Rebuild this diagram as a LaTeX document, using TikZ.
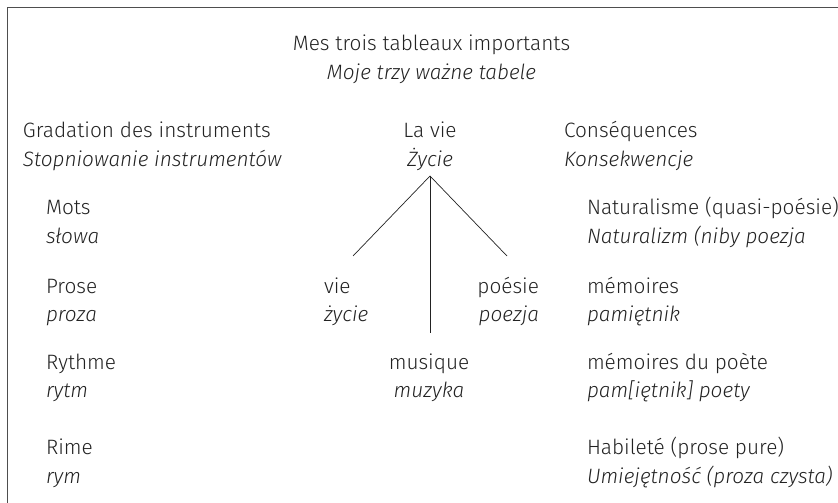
\documentclass[tikz,border=0pt]{standalone}
\usepackage{fontspec}
\setmainfont{Fira Sans Light}[ItalicFont={Fira Sans Light Italic}]
\definecolor{ink}{HTML}{222222}
\tikzset{
  lbl/.style={anchor=base west, inner sep=0pt, outer sep=0pt, text=ink, font=\fontsize{20.8}{24}\selectfont},
  lblc/.style={lbl, anchor=base},
  lble/.style={lbl, anchor=base east},
  it/.style={font=\fontsize{20.8}{24}\selectfont\itshape},
  frame/.style={draw=ink!80, line width=0.9pt},
  branch/.style={draw=ink, line width=0.7pt}
}
\begin{document}
\begin{tikzpicture}[x=1pt, y=-1pt]
\useasboundingbox (0,0) rectangle (838,503);
\draw[frame] (7.5,520) -- (7.5,7.5) -- (850,7.5);
% title
\node[lblc] (t1) at (431.5,50.5) {Mes trois tableaux importants};
\node[lblc,it] (t2) at (431.5,79.5) {Moje trzy ważne tabele};
% headings
\node[lbl] (g1) at (23,137) {Gradation des instruments};
\node[lbl,it] (g2) at (23,166) {Stopniowanie instrumentów};
\node[lblc] (v1) at (430,137) {La vie};
\node[lblc,it] (v2) at (430,166) {Życie};
\node[lbl] (c1) at (564,137) {Conséquences};
\node[lbl,it] (c2) at (564,166) {Konsekwencje};
% left column
\node[lbl] (m1) at (46,214) {Mots};
\node[lbl,it] (m2) at (46,243) {słowa};
\node[lbl] (p1) at (46,293) {Prose};
\node[lbl,it] (p2) at (46,321) {proza};
\node[lbl] (r1) at (46,369) {Rythme};
\node[lbl,it] (r2) at (46,397) {rytm};
\node[lbl] (i1) at (46,454) {Rime};
\node[lbl,it] (i2) at (46,483) {rym};
% middle
\node[lbl] (vie1) at (324,293) {vie};
\node[lbl,it] (vie2) at (324,321) {życie};
\node[lble] (po1) at (539,293) {poésie};
\node[lble,it] (po2) at (539,321) {poezja};
\node[lblc] (mu1) at (429,369) {musique};
\node[lblc,it] (mu2) at (429,397) {muzyka};
% right column
\node[lbl] (n1) at (587,214) {Naturalisme (quasi-poésie)};
\node[lbl,it] (n2) at (587,243) {Naturalizm (niby poezja};
\node[lbl] (e1) at (587,293) {mémoires};
\node[lbl,it] (e2) at (587,321) {pamiętnik};
\node[lbl] (d1) at (587,369) {mémoires du poète};
\node[lbl,it] (d2) at (587,397) {pam[iętnik] poety};
\node[lbl] (h1) at (587,454) {Habileté (prose pure)};
\node[lbl,it] (h2) at (587,483) {Umiejętność (proza czysta)};
% branches
\coordinate (apex) at (430,176);
\coordinate (endl) at (353,256);
\coordinate (endr) at (507,256);
\coordinate (endm) at (430,333);
\draw[branch] (endl) -- (apex) -- (endr);
\draw[branch] (apex) -- (endm);
\end{tikzpicture}
\end{document}
